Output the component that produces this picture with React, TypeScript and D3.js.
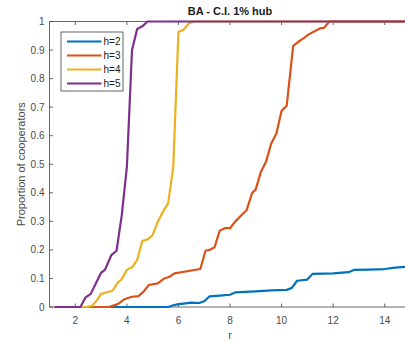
import React from "react";
import * as d3 from "d3";

const series = ["h=2", "h=3", "h=4", "h=5"];
const colors = ["#0072BD", "#D95319", "#EDB120", "#7E2F8E"];

const h2R = [1.2, 5.6, 5.8, 6.0, 6.2, 6.5, 6.8, 7.0, 7.2, 7.6, 8.0, 8.2, 8.6, 9.0, 9.6, 10.2, 10.4, 10.6, 11.0, 11.2, 11.6, 12.0, 12.6, 12.8, 13.4, 14.0, 14.4, 15.0];
const h2P = [0, 0, 0.006, 0.01, 0.012, 0.015, 0.014, 0.02, 0.037, 0.04, 0.043, 0.051, 0.053, 0.055, 0.058, 0.06, 0.067, 0.092, 0.096, 0.116, 0.117, 0.118, 0.122, 0.13, 0.131, 0.133, 0.138, 0.142];

const h3R = [1.2, 3.3, 3.65, 3.9, 4.2, 4.45, 4.65, 4.85, 5.2, 5.45, 5.65, 5.85, 6.85, 7.05, 7.2, 7.4, 7.6, 7.8, 8.0, 8.2, 8.45, 8.65, 8.85, 9.0, 9.2, 9.4, 9.6, 9.8, 10.0, 10.2, 10.45, 10.65, 10.85, 11.05, 11.3, 11.5, 11.65, 11.85, 15.0];
const h3P = [0, 0, 0.01, 0.027, 0.036, 0.038, 0.054, 0.077, 0.083, 0.1, 0.106, 0.118, 0.133, 0.197, 0.2, 0.209, 0.267, 0.276, 0.276, 0.299, 0.322, 0.34, 0.398, 0.412, 0.474, 0.51, 0.573, 0.608, 0.687, 0.705, 0.915, 0.929, 0.941, 0.955, 0.967, 0.976, 0.978, 1.0, 1.0];

const h4R = [1.2, 2.45, 2.65, 2.85, 3.0, 3.2, 3.45, 3.65, 3.8, 4.0, 4.2, 4.4, 4.6, 4.8, 5.0, 5.2, 5.4, 5.6, 5.8, 6.0, 6.2, 6.4, 6.6, 15.0];
const h4P = [0, 0, 0.004, 0.025, 0.046, 0.051, 0.057, 0.086, 0.097, 0.13, 0.139, 0.165, 0.231, 0.237, 0.252, 0.299, 0.334, 0.363, 0.49, 0.963, 0.971, 0.993, 1.0, 1.0];

const h5R = [1.2, 2.2, 2.4, 2.6, 2.8, 3.0, 3.15, 3.4, 3.6, 3.8, 4.0, 4.2, 4.4, 4.6, 4.8, 15.0];
const h5P = [0, 0, 0.034, 0.046, 0.083, 0.12, 0.13, 0.182, 0.197, 0.32, 0.49, 0.9, 0.974, 0.983, 1.0, 1.0];

const allR = [h2R, h3R, h4R, h5R];
const allP = [h2P, h3P, h4P, h5P];

const xTicks = [2, 4, 6, 8, 10, 12, 14];
const yTicks = [0, 0.1, 0.2, 0.3, 0.4, 0.5, 0.6, 0.7, 0.8, 0.9, 1];

const W = 405;
const H = 342;
const left = 49.5;
const right = 410.5;
const top = 21.5;
const bottom = 307;
const font = "'Liberation Sans', Arial, sans-serif";
const axisColor = "#404040";
const textColor = "#4a4a4a";

export default function App() {
  const x = d3.scaleLinear().domain([1, 15]).range([left, right]);
  const y = d3.scaleLinear().domain([0, 1]).range([bottom, top]);
  const line = d3
    .line<[number, number]>()
    .x((d) => x(d[0]))
    .y((d) => y(d[1]));
  const tk = 3.5;

  return (
    <div style={{ position: "absolute", left: 0, top: 0 }}>
      <svg width={W} height={H} style={{ display: "block", background: "#fff" }}>
        <rect x={0} y={0} width={W} height={H} fill="#fff" />
        {/* axes box */}
        <g stroke={axisColor} strokeWidth={0.8} fill="none">
          <line x1={left} x2={right} y1={bottom} y2={bottom} />
          <line x1={left} x2={right} y1={top} y2={top} />
          <line x1={left} x2={left} y1={top} y2={bottom} />
          <line x1={right} x2={right} y1={top} y2={bottom} />
          {xTicks.map((t) => (
            <g key={"xt" + t}>
              <line x1={x(t)} x2={x(t)} y1={bottom} y2={bottom - tk} />
              <line x1={x(t)} x2={x(t)} y1={top} y2={top + tk} />
            </g>
          ))}
          {yTicks.map((t) => (
            <g key={"yt" + t}>
              <line x1={left} x2={left + tk} y1={y(t)} y2={y(t)} />
              <line x1={right} x2={right - tk} y1={y(t)} y2={y(t)} />
            </g>
          ))}
        </g>
        {xTicks.map((t) => (
          <text
            key={"xl" + t}
            x={x(t)}
            y={bottom + 17}
            textAnchor="middle"
            fontFamily={font}
            fontSize={10}
            fill={textColor}
          >
            {t}
          </text>
        ))}
        {yTicks.map((t) => (
          <text
            key={"yl" + t}
            x={left - 5}
            y={y(t) + 3.5}
            textAnchor="end"
            fontFamily={font}
            fontSize={10}
            fill={textColor}
          >
            {String(t)}
          </text>
        ))}
        {/* lines */}
        {allR.map((rs, i) => (
          <path
            key={"s" + i}
            d={line(rs.map((r, j) => [r, allP[i][j]] as [number, number])) || ""}
            fill="none"
            stroke={colors[i]}
            strokeWidth={2.2}
            strokeLinejoin="round"
          />
        ))}
        {/* title & labels */}
        <text
          x={(left + right) / 2}
          y={15}
          textAnchor="middle"
          fontFamily={font}
          fontSize={11}
          fontWeight="bold"
          fill="#1a1a1a"
        >
          BA - C.I. 1% hub
        </text>
        <text
          x={(left + right) / 2}
          y={339}
          textAnchor="middle"
          fontFamily={font}
          fontSize={11}
          fill={textColor}
        >
          r
        </text>
        <text
          transform={`translate(25,${(top + bottom) / 2}) rotate(-90)`}
          textAnchor="middle"
          fontFamily={font}
          fontSize={11}
          fill={textColor}
        >
          Proportion of cooperators
        </text>
        {/* legend */}
        <rect x={61} y={32} width={62} height={59} fill="#fff" stroke={axisColor} strokeWidth={0.8} />
        {series.map((s, i) => (
          <g key={"lg" + i}>
            <line
              x1={67}
              x2={101.5}
              y1={41.5 + i * 14}
              y2={41.5 + i * 14}
              stroke={colors[i]}
              strokeWidth={2.2}
            />
            <text
              x={103.5}
              y={41.5 + i * 14 + 3.5}
              fontFamily={font}
              fontSize={10}
              fill="#1a1a1a"
            >
              {s}
            </text>
          </g>
        ))}
      </svg>
    </div>
  );
}
